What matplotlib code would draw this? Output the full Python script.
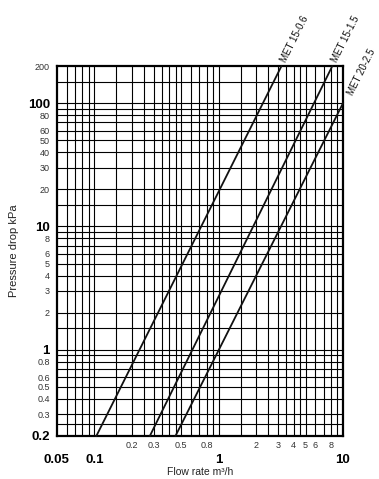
import numpy as np
import matplotlib
matplotlib.use("Agg")
from matplotlib import pyplot as plt

plt.rcParams['font.family'] = ['Liberation Sans', 'DejaVu Sans']

# curves: flow rate (m3/h) and pressure drop (kPa) read at both ends
series_names = ["MET 15-0.6", "MET 15-1.5", "MET 20-2.5"]
series_flow = [[0.104, 3.2], [0.28, 8.2], [0.45, 10.0]]
series_dp = [[0.2, 200.0], [0.2, 200.0], [0.2, 100.0]]

# axis ticks
x_major = [0.05, 0.1, 1, 10]
x_major_lbl = ["0.05", "0.1", "1", "10"]
x_minor = [0.2, 0.3, 0.5, 0.8, 2, 3, 4, 5, 6, 8]
x_minor_lbl = ["0.2", "0.3", "0.5", "0.8", "2", "3", "4", "5", "6", "8"]
y_major = [0.2, 1, 10, 100]
y_major_lbl = ["0.2", "1", "10", "100"]
y_minor = [0.3, 0.4, 0.5, 0.6, 0.8, 2, 3, 4, 5, 6, 8, 20, 30, 40, 50, 60, 80, 200]
y_minor_lbl = ["0.3", "0.4", "0.5", "0.6", "0.8", "2", "3", "4", "5", "6", "8",
               "20", "30", "40", "50", "60", "80", "200"]

# grid lines
x_grid = [0.06, 0.07, 0.08, 0.09]
for d in [0.1, 1]:
    x_grid += [d * m for m in [1, 1.5, 2, 2.5, 3, 3.5, 4, 4.5, 5, 6, 7, 8, 9]]
y_grid = [0.25]
for d in [0.1, 1, 10, 100]:
    y_grid += [d * m for m in [1, 1.5, 2, 3, 4, 5, 6, 7, 8, 9]]
y_grid = [v for v in y_grid if 0.2 < v < 200]

fig = plt.figure(figsize=(3.79, 4.79), dpi=100)
ax = fig.add_axes([0.150, 0.090, 0.755, 0.772])
ax.set_xscale("log")
ax.set_yscale("log")
ax.set_xlim(0.05, 10)
ax.set_ylim(0.2, 200)

for v in x_grid:
    ax.axvline(v, color="black", lw=0.8, zorder=1)
for v in y_grid:
    ax.axhline(v, color="black", lw=0.8, zorder=1)

for name, q, dp in zip(series_names, series_flow, series_dp):
    ax.plot(q, dp, color="#111111", lw=1.3, zorder=3, clip_on=False)
    if dp[-1] >= 200:
        off = (2, 4)
    else:
        off = (7, 9)
    ax.annotate(name, xy=(q[-1], dp[-1]), xytext=off, textcoords="offset pixels",
                rotation=63.5, rotation_mode="anchor", ha="left", va="center",
                fontsize=7, fontweight="medium", color="#111111",
                annotation_clip=False)

for s in ax.spines.values():
    s.set_linewidth(1.6)

ax.set_xticks(x_major)
ax.set_xticklabels(x_major_lbl, fontsize=9.5, fontweight="bold")
ax.set_xticks(x_minor, minor=True)
ax.set_xticklabels(x_minor_lbl, minor=True, fontsize=6.5, color="#333333")
ax.set_yticks(y_major)
ax.set_yticklabels(y_major_lbl, fontsize=9.5, fontweight="bold")
ax.set_yticks(y_minor, minor=True)
ax.set_yticklabels(y_minor_lbl, minor=True, fontsize=6.5, color="#333333")
ax.tick_params(axis="x", which="major", length=0, pad=13)
ax.tick_params(axis="x", which="minor", length=0, pad=4)
ax.tick_params(axis="y", which="both", length=0, pad=5)

ax.set_xlabel("Flow rate m³/h", fontsize=7.5, color="#222222", labelpad=1)
ax.set_ylabel("Pressure drop kPa", fontsize=8, color="#222222", labelpad=6)

fig.savefig("out.png", dpi=100)
